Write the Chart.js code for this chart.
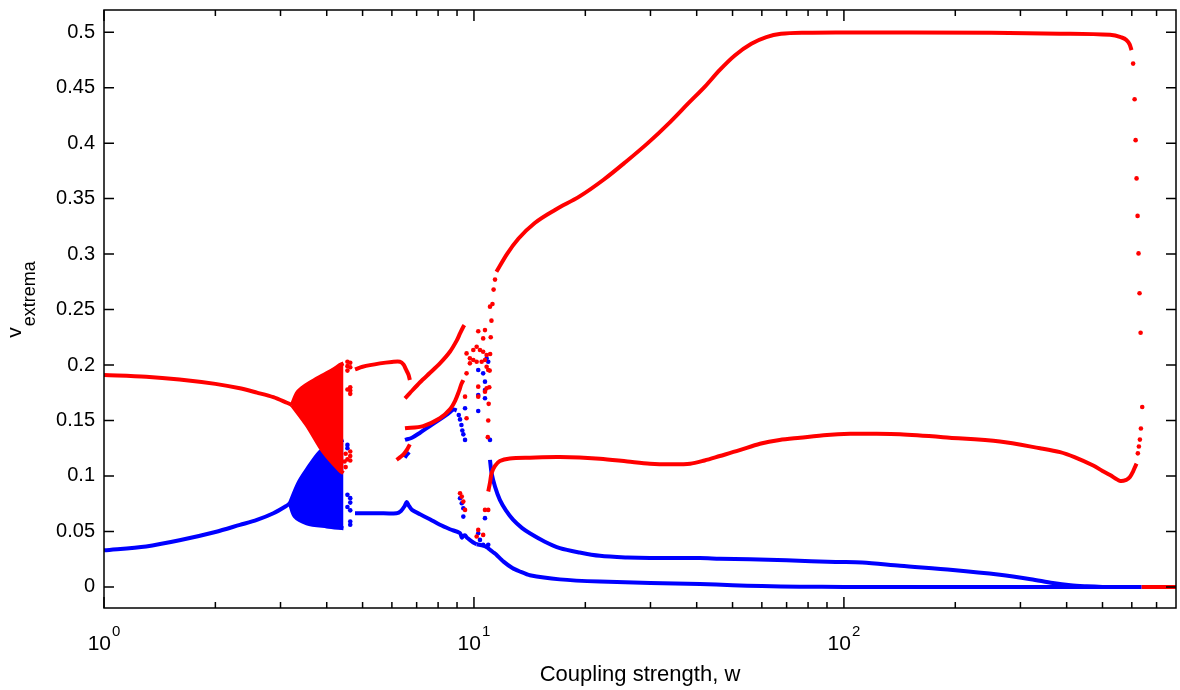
<!DOCTYPE html>
<html>
<head>
<meta charset="utf-8">
<script src="https://cdn.jsdelivr.net/npm/chart.js@4.4.1/dist/chart.umd.min.js"></script>
<style>
html, body { margin: 0; padding: 0; background: #fff; }
#c { display: block; }
</style>
</head>
<body>
<canvas id="c" width="1180" height="690"></canvas>
<script>
// ticks
const yTicks = [0, 0.05, 0.1, 0.15, 0.2, 0.25, 0.3, 0.35, 0.4, 0.45, 0.5];
const yTickLabels = ['0', '0.05', '0.1', '0.15', '0.2', '0.25', '0.3', '0.35', '0.4', '0.45', '0.5'];
const xMajorTicks = [1, 10, 100];
const xTickExponents = ['0', '1', '2'];
const xTitle = 'Coupling strength, w';
const yTitleMain = 'v';
const yTitleSub = 'extrema';

// [w, v] pairs
const redLeft = [[1,0.191],[1.3,0.1895],[1.6,0.187],[2.0,0.183],[2.33,0.179],[2.59,0.1751],[2.87,0.171],[3.12,0.166],[3.22,0.164]];
const blueLeft = [[1,0.033],[1.3,0.0365],[1.6,0.042],[2.0,0.0495],[2.33,0.0559],[2.59,0.0604],[2.87,0.0664],[3.12,0.0733],[3.18,0.0754]];

const redBandTop = [[3.22,0.164],[3.32,0.1745],[3.42,0.179],[3.6,0.184],[3.92,0.191],[4.17,0.196],[4.34,0.200],[4.44,0.2015]];
const redBandBottom = [[3.22,0.164],[3.53,0.146],[3.84,0.126],[4.0,0.118],[4.17,0.111],[4.34,0.105],[4.44,0.1025]];
const blueBandTop = [[3.18,0.0754],[3.35,0.0934],[3.53,0.1055],[3.84,0.122],[4.17,0.1295],[4.44,0.1325]];
const blueBandBottom = [[3.18,0.0754],[3.28,0.0634],[3.53,0.0574],[4.0,0.0545],[4.44,0.0529]];

const redGapDots = [[4.55,0.203],[4.55,0.199],[4.55,0.195],[4.63,0.202],[4.63,0.198],[4.63,0.180],[4.63,0.177],[4.63,0.174],[4.55,0.178],
  [4.5,0.12],[4.55,0.115],[4.63,0.122],[4.63,0.118],[4.63,0.114],[4.5,0.108],[4.47,0.113]];
const blueGapDots = [[4.55,0.083],[4.63,0.080],[4.63,0.076],[4.55,0.072],[4.63,0.069],[4.63,0.059],[4.63,0.056],[4.55,0.128],[4.55,0.125]];

const redHump = [[4.77,0.196],[5.0,0.1985],[5.57,0.2015],[6.0,0.2028],[6.31,0.203],[6.45,0.2005],[6.55,0.196],[6.65,0.1915],[6.71,0.1865]];
const redHook = [[6.18,0.1145],[6.32,0.117],[6.45,0.1195],[6.6,0.124],[6.71,0.1285]];
const blueStub = [[6.5,0.1165],[6.6,0.1195],[6.68,0.1215]];
const blueFlat = [[4.77,0.0664],[5.5,0.0664],[6.18,0.0665],[6.35,0.0685],[6.5,0.073],[6.58,0.0765],[6.66,0.0735],[6.8,0.0695],
  [7.15,0.0655],[7.6,0.061],[8.09,0.056],[8.61,0.052],[9.17,0.0484],[9.27,0.0445],[9.36,0.046],[9.46,0.0465],[9.6,0.044],[9.96,0.040],[10.17,0.0385]];
const redUpper = [[6.51,0.170],[6.7,0.1745],[7.15,0.1845],[7.61,0.193],[8.09,0.2015],[8.61,0.212],[8.98,0.222],[9.17,0.2285],[9.36,0.2345],[9.42,0.236]];
const redMiddle = [[6.51,0.143],[7.29,0.145],[8.09,0.152],[8.61,0.16],[8.9,0.168],[9.1,0.176],[9.25,0.183],[9.36,0.1865]];
const blueMiddle = [[6.51,0.1325],[6.8,0.1345],[7.15,0.139],[7.6,0.145],[8.09,0.151],[8.5,0.156],[8.81,0.16],[8.98,0.159]];

const redScatter = [[11.05,0.2526],[10.27,0.2305],[10.71,0.2315],[10.59,0.224],[9.55,0.2105],[9.75,0.206],[9.96,0.2135],[10.17,0.2165],
  [10.38,0.2135],[10.59,0.212],[10.82,0.209],[10.71,0.2045],[10.49,0.203],[10.17,0.203],[9.96,0.2045],[9.75,0.2015],[10.82,0.1985],
  [10.93,0.1955],[9.55,0.1925],[10.27,0.1805],[10.82,0.179],[10.71,0.176],[10.27,0.1715],[9.46,0.1715],[9.55,0.152],
  [9.17,0.0844],[9.27,0.0814],[9.36,0.0769],[9.46,0.0694],[10.27,0.0514],[10.59,0.0469],[10.17,0.0454],[10.71,0.0694],[10.93,0.0694]];
const blueScatter = [[10.93,0.203],[10.82,0.206],[10.27,0.1955],[10.59,0.1925],[10.71,0.185],[10.71,0.1775],[10.27,0.173],[10.71,0.170],
  [9.46,0.161],[10.27,0.1585],[11.05,0.1325],[9.1,0.155],[9.17,0.151],[9.25,0.146],[9.3,0.141],[9.36,0.1375],[9.46,0.1325],
  [9.17,0.0799],[9.27,0.0754],[9.36,0.0709],[9.36,0.0634],[10.71,0.062],[10.27,0.0484],[10.38,0.0424],[10.59,0.0379],[10.82,0.0364],[10.93,0.0379]];

const redBigSteep = [[10.9,0.135],[10.93,0.15],[10.96,0.165],[11.0,0.18],[11.03,0.195],[11.06,0.21],[11.1,0.225],[11.15,0.24],[11.22,0.255],[11.3,0.268],[11.4,0.277]];
const redBig = [[11.5,0.284],[12.28,0.300],[13.2,0.314],[14.6,0.328],[16.6,0.34],[19.3,0.352],[22.4,0.367],[25.7,0.383],[29.5,0.40],
  [33.9,0.419],[38,0.436],[42.1,0.451],[46.2,0.466],[50.7,0.479],[56.2,0.4895],[61.7,0.4955],[67.6,0.4985],[79.4,0.4995],[100,0.4997],
  [150,0.4998],[250,0.4995],[384,0.4986],[524,0.4976],[560,0.4955],[580,0.493],[592,0.489],[599,0.4838]];
const redDropDots = [[605,0.4717],[610.6,0.4396],[614.4,0.4027],[618,0.3682],[622,0.3344],[625.7,0.3006],[629.6,0.2647],[633.8,0.2291],
  [640.3,0.1622],[635,0.1428],[631,0.1328],[627,0.1266],[623,0.1204]];
const redLow = [[10.93,0.086],[11.05,0.094],[11.16,0.1025],[11.4,0.109],[11.75,0.1135],[12.5,0.1158],[14.17,0.1165],[17.07,0.117],
  [21.9,0.1155],[26,0.113],[29.9,0.111],[34,0.1105],[38.4,0.111],[42,0.114],[46.2,0.118],[52,0.123],[59.3,0.129],[67,0.1325],
  [76.1,0.1345],[90,0.137],[104,0.138],[120,0.138],[141.7,0.1375],[193,0.1345],[264,0.131],[339,0.125],[384,0.1215],[420,0.117],
  [472,0.1094],[500,0.1045],[524,0.1008],[557,0.0956],[580,0.0965],[593,0.099],[605,0.1042],[612,0.108],[618,0.1111]];
const blueMid2 = [[11.05,0.1145],[11.16,0.1025],[11.4,0.0904],[11.75,0.0784],[12.2,0.069],[12.77,0.0604],[13.5,0.053],[14.16,0.0484],
  [15.5,0.041],[17.07,0.035],[19.3,0.031],[21.9,0.028],[26,0.0265],[29.9,0.026],[40.8,0.026],[46.2,0.0255],[55.7,0.025],[70,0.024],
  [95,0.0225],[112,0.022],[142,0.019],[197,0.0153],[264,0.011],[320,0.007],[367,0.0035],[410,0.0015],[453,0.0006],[500,0]];
const blueLow = [[10.17,0.0385],[10.5,0.0375],[10.82,0.036],[11.05,0.0335],[11.3,0.031],[11.5,0.029],[12.0,0.023],[12.7,0.017],
  [13.31,0.0139],[14.16,0.0105],[17.07,0.0068],[21.9,0.0048],[30,0.0036],[40.8,0.0027],[50,0.0015],[60,0.0008],[76,0.0002],[100,0],[638,0]];
const redZero = [[638,0],[790,0]];

const RED = '#ff0000';
const BLUE = '#0000ff';
const FONT = '"Liberation Sans", Arial, Helvetica, sans-serif';

function pts(arr) { return arr.map(p => ({x: p[0], y: p[1]})); }

function curve(arr, color, extra) {
  return Object.assign({
    data: pts(arr), borderColor: color, backgroundColor: color, borderWidth: 4,
    pointRadius: 0, showLine: true, tension: 0.3, fill: false, order: color === RED ? 0 : 1
  }, extra || {});
}
function dots(arr, color) {
  return {
    data: pts(arr), showLine: false, pointRadius: 2.3, pointBorderWidth: 0,
    pointBackgroundColor: color, pointBorderColor: color, order: color === RED ? 0 : 1
  };
}

const datasets = [
  curve(redBandTop, RED),
  curve(redBandBottom, RED, {fill: '-1'}),
  curve(blueBandTop, BLUE),
  curve(blueBandBottom, BLUE, {fill: '-1'}),
  curve(redLeft, RED),
  curve(blueLeft, BLUE),
  dots(redGapDots, RED),
  dots(blueGapDots, BLUE),
  curve(redHump, RED),
  curve(redHook, RED),
  curve(blueStub, BLUE),
  curve(blueFlat, BLUE),
  curve(redUpper, RED),
  curve(redMiddle, RED),
  curve(blueMiddle, BLUE),
  dots(redScatter, RED),
  dots(blueScatter, BLUE),
  dots(redBigSteep, RED),
  curve(redBig, RED, {cubicInterpolationMode: 'monotone'}),
  dots(redDropDots, RED),
  curve(redLow, RED),
  curve(blueMid2, BLUE),
  curve(blueLow, BLUE, {tension: 0.2}),
  curve(redZero, RED, {tension: 0})
];

const framePlugin = {
  id: 'frame',
  afterDraw(chart) {
    const {ctx, chartArea: a, scales: {x, y}} = chart;
    ctx.save();
    ctx.strokeStyle = '#000';
    ctx.fillStyle = '#000';
    ctx.lineWidth = 1.5;
    ctx.strokeRect(a.left, a.top, a.right - a.left, a.bottom - a.top);

    // y ticks and labels
    ctx.font = '20px ' + FONT;
    ctx.textAlign = 'right';
    ctx.textBaseline = 'middle';
    yTicks.forEach((v, i) => {
      const py = y.getPixelForValue(v);
      ctx.beginPath();
      ctx.moveTo(a.left, py); ctx.lineTo(a.left + 10, py);
      ctx.moveTo(a.right, py); ctx.lineTo(a.right - 10, py);
      ctx.stroke();
      ctx.fillText(yTickLabels[i], a.left - 9, py);
    });

    // x minor ticks
    xMajorTicks.forEach(d => {
      for (let m = 2; m < 10; m++) {
        const v = d * m;
        if (v >= x.max) continue;
        const px = x.getPixelForValue(v);
        ctx.beginPath();
        ctx.moveTo(px, a.bottom); ctx.lineTo(px, a.bottom - 6);
        ctx.moveTo(px, a.top); ctx.lineTo(px, a.top + 6);
        ctx.stroke();
      }
    });

    // x major ticks and 10^k labels
    ctx.textAlign = 'left';
    ctx.textBaseline = 'alphabetic';
    xMajorTicks.forEach((v, i) => {
      const px = x.getPixelForValue(v);
      ctx.beginPath();
      ctx.moveTo(px, a.bottom); ctx.lineTo(px, a.bottom - 11);
      ctx.moveTo(px, a.top); ctx.lineTo(px, a.top + 11);
      ctx.stroke();
      ctx.font = '21px ' + FONT;
      const w1 = ctx.measureText('10').width;
      ctx.font = '15px ' + FONT;
      const w2 = ctx.measureText(xTickExponents[i]).width;
      const start = px - (w1 + w2 + 1) / 2;
      ctx.font = '21px ' + FONT;
      ctx.fillText('10', start, a.bottom + 42);
      ctx.font = '15px ' + FONT;
      ctx.fillText(xTickExponents[i], start + w1 + 1, a.bottom + 28);
    });

    // x title
    ctx.font = '22px ' + FONT;
    ctx.textAlign = 'center';
    ctx.fillText(xTitle, (a.left + a.right) / 2, a.bottom + 73);

    // y title, v with subscript
    ctx.translate(21, 300);
    ctx.rotate(-Math.PI / 2);
    ctx.font = '21px ' + FONT;
    const wv = ctx.measureText(yTitleMain).width;
    ctx.font = '18px ' + FONT;
    const ws = ctx.measureText(yTitleSub).width;
    const s0 = -(wv + ws) / 2;
    ctx.textAlign = 'left';
    ctx.font = '21px ' + FONT;
    ctx.fillText(yTitleMain, s0, 0);
    ctx.font = '18px ' + FONT;
    ctx.fillText(yTitleSub, s0 + wv + 1, 14);
    ctx.restore();
  }
};

new Chart(document.getElementById('c'), {
  type: 'line',
  data: {datasets},
  options: {
    responsive: false,
    devicePixelRatio: 1,
    animation: false,
    layout: {padding: {left: 104, right: 4, top: 10, bottom: 82}},
    plugins: {legend: {display: false}, tooltip: {enabled: false}},
    scales: {
      x: {type: 'logarithmic', min: 1, max: 790, display: false},
      y: {type: 'linear', min: -0.019, max: 0.52, display: false}
    }
  },
  plugins: [framePlugin]
});
</script>
</body>
</html>
